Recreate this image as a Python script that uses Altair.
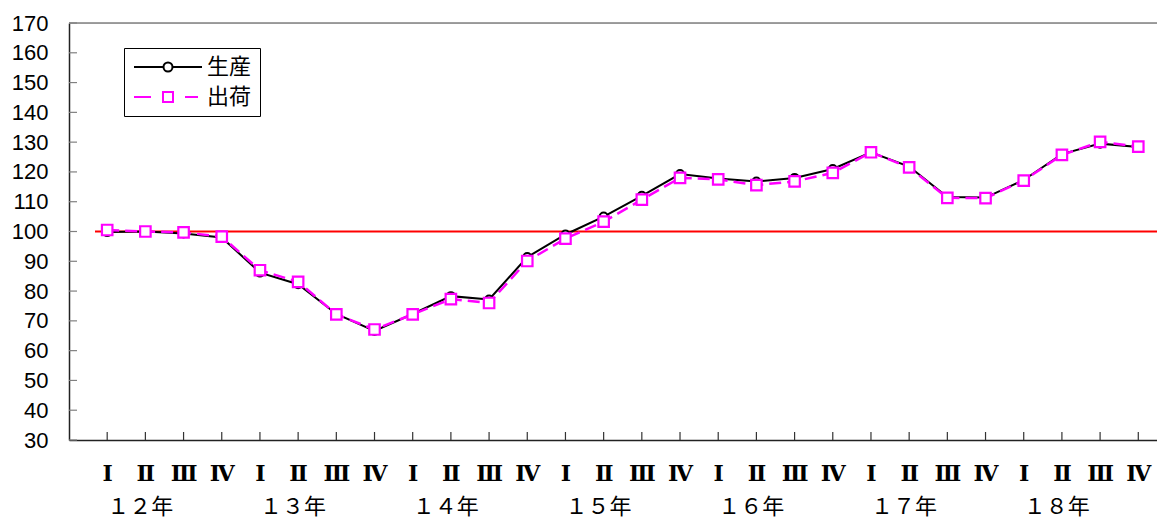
import json
import altair as alt
import pandas as pd

# ---- data ----
QUARTERS = ["Ⅰ", "Ⅱ", "Ⅲ", "Ⅳ"]
YEARS = ["１２年", "１３年", "１４年", "１５年", "１６年", "１７年", "１８年"]
SERIES = ["生産", "出荷"]
PRODUCTION = [99.8, 100.0, 99.3, 98.0,
              86.2, 82.3, 72.3, 66.6,
              72.3, 78.3, 77.2, 91.4,
              99.0, 105.0, 112.0, 119.3,
              117.8, 116.8, 118.0, 121.0,
              126.6, 121.8, 111.6, 111.4,
              117.3, 126.0, 129.5, 128.4]
SHIPMENT = [100.5, 100.0, 99.7, 98.3,
            87.0, 83.1, 72.2, 67.1,
            72.2, 77.3, 76.0, 90.1,
            97.6, 103.3, 110.7, 118.0,
            117.5, 115.6, 116.8, 119.7,
            126.6, 121.5, 111.3, 111.2,
            117.1, 125.7, 130.1, 128.5]
Y_TICKS = list(range(30, 171, 10))
BASELINE = [100]

W, H = 1088, 417
n = len(PRODUCTION)

rows = []
for i in range(n):
    rows.append({"idx": i, "series": SERIES[0], "value": PRODUCTION[i]})
    rows.append({"idx": i, "series": SERIES[1], "value": SHIPMENT[i]})
df = pd.DataFrame(rows)
prod_df = df[df.series == SERIES[0]]
ship_df = df[df.series == SERIES[1]]
years_df = pd.DataFrame({"year": YEARS, "idx": [4 * k for k in range(len(YEARS))]})
qticks_df = pd.DataFrame({"idx": list(range(n))})
yticks_df = pd.DataFrame({"value": Y_TICKS})
base_df = pd.DataFrame({"value": BASELINE})
legend_df = pd.DataFrame({"series": SERIES, "idx": [0, 0], "value": [PRODUCTION[0], SHIPMENT[0]]})

label_expr = json.dumps(QUARTERS, ensure_ascii=False) + "[datum.value % 4]"

x_enc = alt.X(
    "idx:Q",
    scale=alt.Scale(domain=[-1, 27.49], nice=False, zero=False),
    axis=alt.Axis(values=list(range(n)), labelExpr=label_expr, title=None, grid=False,
                  ticks=False, domainColor="#222222", domainWidth=1.5,
                  labelFont="DejaVu Serif", labelFontSize=22, labelFontWeight="bold",
                  labelColor="black", labelPadding=23, labelFlush=False, labelOverlap=False),
)
y_enc = alt.Y(
    "value:Q",
    scale=alt.Scale(domain=[30, 170], nice=False, zero=False),
    axis=alt.Axis(values=Y_TICKS, title=None, grid=False, ticks=False,
                  domainColor="#222222", domainWidth=1.5,
                  labelFont="Liberation Sans", labelFontSize=22, labelColor="black",
                  labelPadding=21),
)

top_border = alt.Chart(base_df).mark_rule(color="#808080", strokeWidth=1.5).encode(
    x=alt.value(0), x2=alt.value(W), y=alt.value(0))

y_ticks = alt.Chart(yticks_df).mark_rule(color="#808080", strokeWidth=1.2).encode(
    y=y_enc, x=alt.value(0), x2=alt.value(8))

x_ticks = alt.Chart(qticks_df).mark_rule(color="#333333", strokeWidth=1.2).encode(
    x=x_enc, y=alt.value(H), y2=alt.value(H - 8))

base_rule = alt.Chart(base_df).mark_rule(color="#FF0000", strokeWidth=2).encode(
    y=y_enc, x=alt.value(26), x2=alt.value(W))

prod_line = alt.Chart(prod_df).mark_line(color="black", strokeWidth=2).encode(x=x_enc, y=y_enc)
prod_pts = alt.Chart(prod_df).mark_point(shape="circle", size=64, fill="white", stroke="black",
                                         strokeWidth=2, opacity=1).encode(x=x_enc, y=y_enc)
ship_line = alt.Chart(ship_df).mark_line(color="#FF00FF", strokeWidth=2.5,
                                         strokeDash=[12, 6]).encode(x=x_enc, y=y_enc)
ship_pts = alt.Chart(ship_df).mark_point(shape="square", size=110, fill="white", stroke="#FF00FF",
                                         strokeWidth=2.2, opacity=1).encode(x=x_enc, y=y_enc)

year_text = alt.Chart(years_df).mark_text(
    align="center", baseline="middle", dx=33, fontSize=22, font="Noto Sans CJK JP", color="black"
).encode(x=x_enc, y=alt.value(484), text="year:N")

path_prod = "M-3.4,0H-0.45M0.45,0H3.4M-0.45,0A0.45,0.45,0,1,1,0.45,0A0.45,0.45,0,1,1,-0.45,0Z"
path_ship = "M-3.4,0H-1.7M1.7,0H3.0M-0.5,-0.5H0.5V0.5H-0.5Z"

leg = alt.Legend(title=None, orient="none", legendX=55, legendY=25,
                 padding=8, strokeColor="black", fillColor="white",
                 symbolSize=400, symbolStrokeWidth=2, symbolOffset=25,
                 labelOffset=28, labelFontSize=22, labelFont="Noto Sans CJK JP",
                 labelColor="black", rowPadding=8, symbolOpacity=1,
                 symbolFillColor="white", cornerRadius=0)

legend_layer = alt.Chart(legend_df).mark_point(opacity=0).encode(
    x=x_enc, y=y_enc,
    color=alt.Color("series:N", scale=alt.Scale(domain=SERIES, range=["black", "#FF00FF"]), legend=leg),
    shape=alt.Shape("series:N", scale=alt.Scale(domain=SERIES, range=[path_prod, path_ship]), legend=leg),
)

chart = alt.layer(
    top_border, y_ticks, x_ticks, base_rule, prod_line, prod_pts, ship_line, ship_pts,
    year_text, legend_layer
).properties(
    width=W, height=H,
    autosize=alt.AutoSizeParams(type="none"),
    padding={"left": 61, "top": 15, "right": 0, "bottom": 80},
).configure_view(stroke=None).configure(background="white")

chart.save("out.html", embed_options={"renderer": "svg", "actions": False})
